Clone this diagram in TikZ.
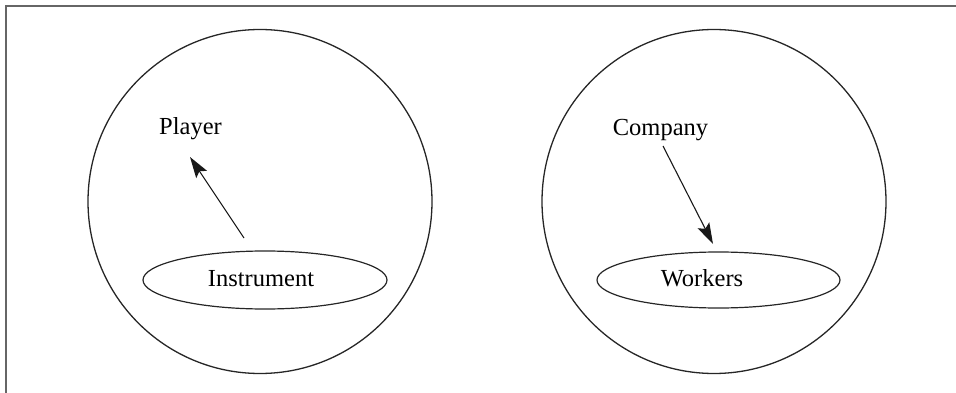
\documentclass[tikz,border=0pt]{standalone}
\usepackage{fontspec}
\setmainfont{Liberation Serif}
\usetikzlibrary{shapes.geometric,arrows.meta}
\begin{document}
\begin{tikzpicture}[x=1pt,y=-1pt,
  frameline/.style={draw=black!60,line width=2pt},
  world/.style={draw=black!85,line width=1.3pt},
  base/.style={draw=black!85,line width=1.2pt,ellipse,inner sep=0pt},
  label/.style={font=\fontsize{24.5}{29}\selectfont,inner sep=0pt,anchor=base},
  link/.style={draw=black!90,line width=1.1pt,-{Stealth[length=21pt,width=13pt,inset=4pt]}}]
\useasboundingbox (0,0) rectangle (956,393);
% open frame: left and top edges
\draw[frameline] (6,393) -- (6,6) -- (956,6);
% the two worlds
\draw[world] (260,201.5) circle[radius=172];
\draw[world] (714,201.5) circle[radius=172];
% lower ellipses
\node[base,minimum width=244pt,minimum height=58pt] (instEll) at (265,280) {};
\node[base,minimum width=243pt,minimum height=56pt] (workEll) at (718.5,280) {};
% texts
\node[label] (player) at (190.5,135) {Player};
\node[label] (company) at (660.5,136) {Company};
\node[label] (instrument) at (261,286.7) {Instrument};
\node[label] (workers) at (702,286.7) {Workers};
% connector ends
\coordinate (instTop) at (244,238);
\coordinate (playerFoot) at (190,157);
\coordinate (companyFoot) at (663,146);
\coordinate (workTop) at (713,244);
\draw[link] (instTop) -- (playerFoot);
\draw[link] (companyFoot) -- (workTop);
\end{tikzpicture}
\end{document}
